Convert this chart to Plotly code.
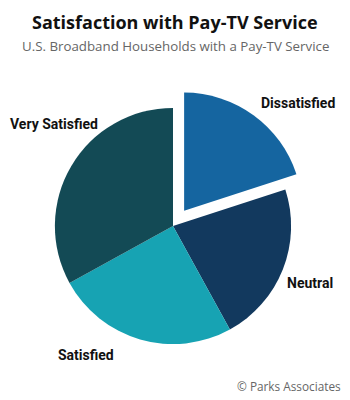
import plotly.graph_objects as go

labels = ["Dissatisfied", "Neutral", "Satisfied", "Very Satisfied"]
values = [20, 22, 25, 33]
colors = ["#1565a0", "#12395e", "#17a3b3", "#134a55"]
pulls = [0.16, 0, 0, 0]

label_pos = {
    "Dissatisfied": (298, 103),
    "Neutral": (310, 283),
    "Satisfied": (86, 355),
    "Very Satisfied": (54, 124),
}

W, H = 350, 400

fig = go.Figure(go.Pie(
    labels=labels, values=values, sort=False, direction="clockwise", rotation=0,
    marker=dict(colors=colors, line=dict(width=0)),
    pull=pulls, textinfo="none", hoverinfo="label+percent", showlegend=False,
    domain=dict(x=[36/W, 310/W], y=[(H-363)/H, (H-89)/H]),
))

annotations = []
for lab in labels:
    x, y = label_pos[lab]
    annotations.append(dict(x=x/W, y=1-y/H, xref="paper", yref="paper", text=f"<b>{lab}</b>",
                            showarrow=False, xanchor="center", yanchor="middle",
                            font=dict(family="Roboto", size=14, color="#111111")))
annotations.append(dict(x=175/W, y=1-22/H, xref="paper", yref="paper",
                        text="<b>Satisfaction with Pay-TV Service</b>", showarrow=False,
                        xanchor="center", yanchor="middle",
                        font=dict(family="Open Sans", size=18, color="#111111")))
annotations.append(dict(x=175/W, y=1-46/H, xref="paper", yref="paper",
                        text="U.S. Broadband Households with a Pay-TV Service", showarrow=False,
                        xanchor="center", yanchor="middle",
                        font=dict(family="Open Sans", size=13.3, color="#666666")))
annotations.append(dict(x=289/W, y=1-386/H, xref="paper", yref="paper",
                        text="© Parks Associates", showarrow=False,
                        xanchor="center", yanchor="middle",
                        font=dict(family="Open Sans", size=11.8, color="#666666")))

fig.update_layout(width=W, height=H, margin=dict(l=0, r=0, t=0, b=0),
                  paper_bgcolor="white", plot_bgcolor="white", annotations=annotations)

fig.write_html("out.html")
